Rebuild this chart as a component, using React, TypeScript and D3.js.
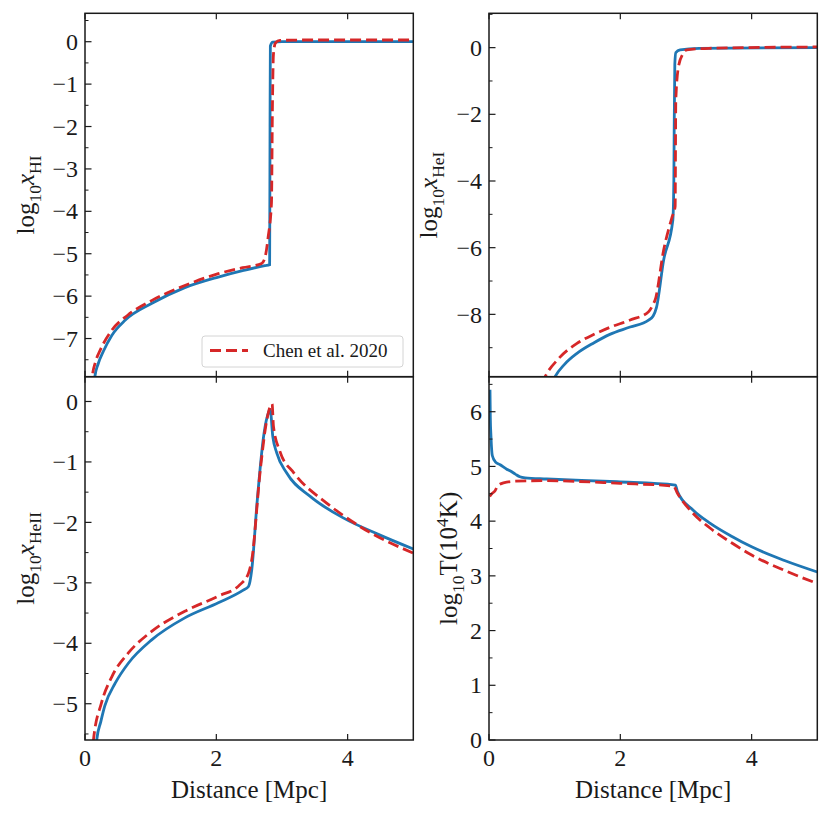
import * as d3 from "d3";

type Pt = [number, number];

// distance [Mpc], log10 value
const hiModel: Pt[] = [
  [0.13, -8.2], [0.15, -7.9], [0.2, -7.6], [0.28, -7.3], [0.41, -6.92], [0.61, -6.57],
  [1.02, -6.17], [1.52, -5.8], [2.03, -5.55], [2.4, -5.4], [2.74, -5.28], [2.812, -5.26],
  [2.818, -2.0], [2.823, -0.1], [2.86, -0.01], [3.0, 0], [5.0, 0],
];
const hiChen: Pt[] = [
  [0.09, -8.2], [0.11, -7.9], [0.16, -7.55], [0.23, -7.28], [0.41, -6.8], [0.65, -6.45],
  [1.02, -6.1], [1.52, -5.75], [2.03, -5.47], [2.4, -5.33], [2.69, -5.23], [2.74, -5.1],
  [2.79, -4.6], [2.84, -3.8], [2.855, -1.5], [2.87, -0.3], [2.9, -0.03], [2.97, 0.03],
  [3.3, 0.04], [5.0, 0.04],
];

const heiModel: Pt[] = [
  [0.95, -10.1], [1.006, -9.87], [1.15, -9.5], [1.34, -9.17], [1.6, -8.85], [1.84, -8.6],
  [2.15, -8.38], [2.43, -8.17], [2.5, -8.05], [2.55, -7.8], [2.66, -6.37], [2.8, -5.17],
  [2.815, -4.0], [2.82, -2.57], [2.83, -0.5], [2.845, -0.15], [2.91, -0.07], [3.2, -0.02], [5.0, 0],
];
const heiChen: Pt[] = [
  [0.8, -10.1], [0.854, -9.87], [1.05, -9.35], [1.34, -8.87], [1.6, -8.6], [1.84, -8.39],
  [2.15, -8.17], [2.43, -7.92], [2.5, -7.7], [2.53, -7.57], [2.66, -6.07], [2.79, -5.07],
  [2.835, -4.77], [2.845, -1.57], [2.886, -0.57], [2.95, -0.2], [3.01, -0.07], [3.35, -0.02], [5.0, 0.02],
];

const heiiModel: Pt[] = [
  [0.16, -5.9], [0.18, -5.59], [0.24, -5.3], [0.3, -5.04], [0.46, -4.66], [0.66, -4.33],
  [1.02, -3.94], [1.52, -3.58], [2.03, -3.33], [2.41, -3.12], [2.49, -3.06], [2.54, -2.78],
  [2.62, -1.68], [2.72, -0.58], [2.76, -0.32], [2.8, -0.17], [2.82, -0.13], [2.86, -0.58],
  [2.92, -0.85], [3.07, -1.18], [3.43, -1.57], [3.94, -1.93], [4.45, -2.19], [5.0, -2.44],
];
const heiiChen: Pt[] = [
  [0.11, -5.9], [0.13, -5.59], [0.25, -4.99], [0.41, -4.55], [0.66, -4.16], [1.02, -3.8],
  [1.52, -3.47], [2.03, -3.22], [2.36, -3.03], [2.49, -2.84], [2.54, -2.62], [2.67, -1.13],
  [2.77, -0.3], [2.85, -0.04], [2.87, -0.41], [2.97, -0.83], [3.18, -1.18], [3.68, -1.68],
  [4.19, -2.07], [5.0, -2.51],
];

const tempModel: Pt[] = [
  [0.015, 6.4], [0.02, 5.9], [0.03, 5.55], [0.05, 5.2], [0.1, 5.08], [0.17, 5.03],
  [0.27, 4.95], [0.32, 4.92], [0.4, 4.86], [0.47, 4.81], [0.55, 4.79], [0.88, 4.77],
  [1.95, 4.72], [2.84, 4.66], [2.87, 4.54], [3.11, 4.2], [3.37, 3.96], [3.7, 3.72],
  [4.0, 3.53], [4.5, 3.28], [5.0, 3.07],
];
const tempChen: Pt[] = [
  [0.01, 4.45], [0.04, 4.5], [0.09, 4.55], [0.13, 4.64], [0.22, 4.7], [0.4, 4.73],
  [0.83, 4.74], [2.0, 4.69], [2.81, 4.64], [2.87, 4.51], [3.11, 4.14], [3.37, 3.87],
  [3.7, 3.6], [4.0, 3.38], [4.5, 3.1], [5.0, 2.86],
];

const xTicks = [0, 2, 4];
const legendLabel = "Chen et al. 2020";
const xLabel = "Distance [Mpc]";

type Part = { t: string; sub?: boolean; sup?: boolean; it?: boolean };

interface Panel {
  model: Pt[];
  chen: Pt[];
  yDomain: [number, number];
  yMajor: number[];
  yMinorStep: number;
  label: Part[];
  box: [number, number, number, number];
  labelX: number;
  legend?: boolean;
  xLabels?: boolean;
}

const L = [85, 413.3];
const R = [489, 817.3];
const T = [13.3, 376.7];
const B = [376.7, 740];

const panels: Panel[] = [
  {
    model: hiModel, chen: hiChen, yDomain: [-7.9, 0.67], yMajor: d3.range(-7, 1), yMinorStep: 0.5,
    label: [{ t: "log" }, { t: "10", sub: true }, { t: "x", it: true }, { t: "HI", sub: true }],
    box: [L[0], L[1], T[0], T[1]], labelX: 34, legend: true,
  },
  {
    model: heiModel, chen: heiChen, yDomain: [-9.87, 1.03], yMajor: [-8, -6, -4, -2, 0], yMinorStep: 1,
    label: [{ t: "log" }, { t: "10", sub: true }, { t: "x", it: true }, { t: "HeI", sub: true }],
    box: [R[0], R[1], T[0], T[1]], labelX: 437,
  },
  {
    model: heiiModel, chen: heiiChen, yDomain: [-5.6, 0.41], yMajor: d3.range(-5, 1), yMinorStep: 0.5,
    label: [{ t: "log" }, { t: "10", sub: true }, { t: "x", it: true }, { t: "HeII", sub: true }],
    box: [L[0], L[1], B[0], B[1]], labelX: 34, xLabels: true,
  },
  {
    model: tempModel, chen: tempChen, yDomain: [0, 6.64], yMajor: d3.range(0, 7), yMinorStep: 0.5,
    label: [{ t: "log" }, { t: "10", sub: true }, { t: "T(10" }, { t: "4", sup: true }, { t: "K)" }],
    box: [R[0], R[1], B[0], B[1]], labelX: 457, xLabels: true,
  },
];

const BLUE = "#1f77b4";
const RED = "#d62728";
const INK = "#1a1a1a";
const FONT = "Liberation Serif, DejaVu Serif, serif";

function Label({ parts, size }: { parts: Part[]; size: number }) {
  const shift = size * 0.28;
  let cur = 0;
  return (
    <>
      {parts.map((p, i) => {
        const target = p.sub ? shift : p.sup ? -size * 0.38 : 0;
        const dy = target - cur;
        cur = target;
        return (
          <tspan
            key={i}
            dy={dy}
            fontFamily={FONT}
            fontSize={p.sub || p.sup ? size * 0.7 : size}
            fontStyle={p.it ? "italic" : "normal"}
          >
            {p.t}
          </tspan>
        );
      })}
    </>
  );
}

function PanelView({ p, idx }: { p: Panel; idx: number }) {
  const [x0, x1, y0, y1] = p.box;
  const x = d3.scaleLinear().domain([0, 5]).range([x0, x1]);
  const y = d3.scaleLinear().domain(p.yDomain).range([y1, y0]);
  const line = d3
    .line<Pt>()
    .x((d) => x(d[0]))
    .y((d) => y(d[1]))
    .curve(d3.curveMonotoneX);

  const minor = d3
    .range(Math.ceil(p.yDomain[0] / p.yMinorStep) * p.yMinorStep, p.yDomain[1], p.yMinorStep)
    .filter((v) => !p.yMajor.some((m) => Math.abs(m - v) < 1e-6));
  const fmt = (v: number) => (v < 0 ? "\u2212" + Math.abs(v) : String(v));
  const clipId = `clip-${idx}`;

  return (
    <g>
      <clipPath id={clipId}>
        <rect x={x0} y={y0} width={x1 - x0} height={y1 - y0} />
      </clipPath>
      <g clipPath={`url(#${clipId})`}>
        <path d={line(p.model) ?? ""} fill="none" stroke={BLUE} strokeWidth={2.8} />
        <path
          d={line(p.chen) ?? ""}
          fill="none"
          stroke={RED}
          strokeWidth={2.8}
          strokeDasharray="11 5"
        />
      </g>

      {/* ticks, pointing inward */}
      {xTicks.map((t) => (
        <g key={`xt${t}`} stroke={INK} strokeWidth={1.2}>
          <line x1={x(t)} x2={x(t)} y1={y1} y2={y1 - 6} />
          <line x1={x(t)} x2={x(t)} y1={y0} y2={y0 + 6} />
        </g>
      ))}
      {p.yMajor.map((t) => (
        <line key={`ym${t}`} x1={x0} x2={x0 + 6.5} y1={y(t)} y2={y(t)} stroke={INK} strokeWidth={1.2} />
      ))}
      {minor.map((t) => (
        <line key={`yn${t}`} x1={x0} x2={x0 + 3.5} y1={y(t)} y2={y(t)} stroke={INK} strokeWidth={1} />
      ))}

      <rect x={x0} y={y0} width={x1 - x0} height={y1 - y0} fill="none" stroke={INK} strokeWidth={1.5} />

      {p.yMajor.map((t) => (
        <text
          key={`yl${t}`}
          x={x0 - 7}
          y={y(t)}
          dy="0.34em"
          textAnchor="end"
          fontFamily={FONT}
          fontSize={24}
          fill={INK}
        >
          {fmt(t)}
        </text>
      ))}

      {p.xLabels && (
        <>
          {xTicks.map((t) => (
            <text key={`xl${t}`} x={x(t)} y={766} textAnchor="middle" fontFamily={FONT} fontSize={24} fill={INK}>
              {t}
            </text>
          ))}
          <text x={(x0 + x1) / 2} y={798} textAnchor="middle" fontFamily={FONT} fontSize={25} fill={INK}>
            {xLabel}
          </text>
        </>
      )}

      <text
        transform={`translate(${p.labelX},${(y0 + y1) / 2}) rotate(-90)`}
        textAnchor="middle"
        fontFamily={FONT}
        fill={INK}
        fontSize={25}
      >
        <Label parts={p.label} size={25} />
      </text>

      {p.legend && (
        <g>
          <rect x={202} y={336} width={201} height={31} rx={3} fill="white" fillOpacity={0.85} stroke="#d4d4d4" />
          <line x1={210} x2={248} y1={350.5} y2={350.5} stroke={RED} strokeWidth={2.8} strokeDasharray="11 5" />
          <text x={263} y={357} fontFamily={FONT} fontSize={19} fill={INK}>
            {legendLabel}
          </text>
        </g>
      )}
    </g>
  );
}

export default function App() {
  return (
    <svg
      width={831}
      height={818}
      style={{ position: "absolute", left: 0, top: 0, background: "white", fontFamily: FONT }}
    >
      {panels.map((p, i) => (
        <PanelView key={i} p={p} idx={i} />
      ))}
    </svg>
  );
}
